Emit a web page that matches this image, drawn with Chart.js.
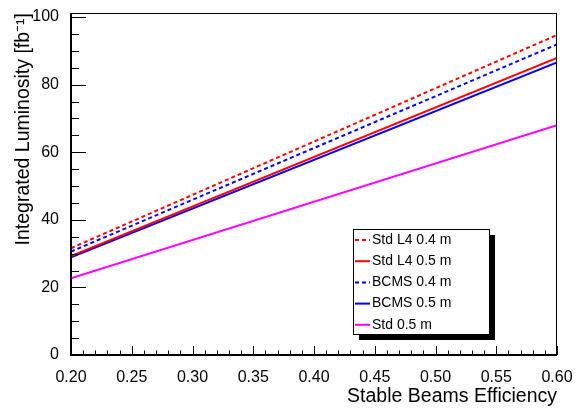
<!DOCTYPE html>
<html>
<head>
<meta charset="utf-8">
<script src="https://cdn.jsdelivr.net/npm/chart.js@4/dist/chart.umd.min.js"></script>
<style>
  html, body { margin: 0; padding: 0; background: #fff; }
</style>
</head>
<body>
<canvas id="c" width="575" height="408"></canvas>
<script>
// data
var efficiency = [0.20, 0.60];
var stdL4_04 = [31.6, 94.7];
var stdL4_05 = [29.3, 87.9];
var bcms_04 = [30.6, 91.9];
var bcms_05 = [28.9, 86.6];
var std_05 = [22.7, 68.0];

var seriesNames = ['Std L4 0.4 m', 'Std L4 0.5 m', 'BCMS 0.4 m', 'BCMS 0.5 m', 'Std 0.5 m'];
var xTicks = [0.20, 0.25, 0.30, 0.35, 0.40, 0.45, 0.50, 0.55, 0.60];
var yTicks = [0, 20, 40, 60, 80, 100];

Chart.defaults.font.family = '"Liberation Sans", Arial, Helvetica, sans-serif';
Chart.defaults.color = '#000';

function pts(vals) {
  return efficiency.map(function (x, i) { return { x: x, y: vals[i] }; });
}

function line(label, vals, color, dash) {
  return {
    label: label,
    data: pts(vals),
    borderColor: color,
    backgroundColor: color,
    borderWidth: 2,
    borderDash: dash,
    pointRadius: 0,
    fill: false,
    tension: 0
  };
}

// ROOT style frame, inward ticks and boxed legend with shadow
var rootFrame = {
  id: 'rootFrame',
  afterDatasetsDraw: function (chart) {
    var ctx = chart.ctx, a = chart.chartArea;
    var xs = chart.scales.x, ys = chart.scales.y;
    ctx.save();

    // frame
    ctx.strokeStyle = '#000';
    ctx.lineWidth = 1;
    ctx.strokeRect(a.left + 0.5, a.top + 0.5, a.right - a.left - 1, a.bottom - a.top);
    ctx.lineWidth = 2;
    ctx.beginPath();
    ctx.moveTo(a.left, a.top);
    ctx.lineTo(a.left, a.bottom);
    ctx.lineTo(a.right, a.bottom);
    ctx.stroke();

    // y ticks (major every 20, minor every 5)
    ctx.lineWidth = 1;
    ctx.beginPath();
    for (var v = 0; v <= ys.max; v += 5) {
      var y = Math.round(ys.getPixelForValue(v)) + 0.5;
      var len = (v % 20 === 0) ? 15 : 8;
      ctx.moveTo(a.left, y);
      ctx.lineTo(a.left + len, y);
    }
    // x ticks (major every 0.05, minor every 0.01)
    for (var k = 20; k <= 60; k++) {
      var x = Math.round(xs.getPixelForValue(k / 100)) + 0.5;
      var l = (k % 5 === 0) ? 9 : 4.5;
      ctx.moveTo(x, a.bottom);
      ctx.lineTo(x, a.bottom - l);
    }
    ctx.stroke();

    // legend box
    var bx = 353, by = 229, bw = 136, bh = 105;
    ctx.fillStyle = '#000';
    ctx.fillRect(bx + 6, by + 6, bw, bh);
    ctx.fillStyle = '#fff';
    ctx.fillRect(bx, by, bw, bh);
    ctx.strokeStyle = '#000';
    ctx.lineWidth = 1;
    ctx.strokeRect(bx + 0.5, by + 0.5, bw, bh);

    ctx.font = '14px "Liberation Sans", Arial, sans-serif';
    ctx.textBaseline = 'middle';
    ctx.textAlign = 'left';
    chart.data.datasets.forEach(function (ds, i) {
      var ry = by + 11 + i * 21.2;
      ctx.strokeStyle = ds.borderColor;
      ctx.lineWidth = 2;
      ctx.setLineDash(ds.borderDash || []);
      ctx.beginPath();
      ctx.moveTo(bx + 2, ry);
      ctx.lineTo(bx + 17, ry);
      ctx.stroke();
      ctx.setLineDash([]);
      ctx.fillStyle = '#000';
      ctx.fillText(ds.label, bx + 19, ry);
    });

    ctx.restore();
  }
};

new Chart(document.getElementById('c'), {
  type: 'line',
  data: {
    datasets: [
      line(seriesNames[0], stdL4_04, '#ff0000', [4, 3]),
      line(seriesNames[1], stdL4_05, '#ff0000', []),
      line(seriesNames[2], bcms_04, '#0000ff', [4, 3]),
      line(seriesNames[3], bcms_05, '#0000ff', []),
      line(seriesNames[4], std_05, '#ff00ff', [])
    ]
  },
  options: {
    responsive: false,
    animation: false,
    devicePixelRatio: 1,
    layout: { padding: { left: 0, right: 18, top: 13, bottom: 0 } },
    plugins: {
      legend: { display: false },
      tooltip: { enabled: false }
    },
    scales: {
      x: {
        type: 'linear',
        min: 0.2,
        max: 0.6,
        grid: { display: false },
        border: { display: false },
        afterBuildTicks: function (s) {
          s.ticks = xTicks.map(function (v) { return { value: v }; });
        },
        afterFit: function (s) {
          s.height = 53;
          s.paddingLeft = 0;
          s.paddingRight = 0;
        },
        ticks: {
          autoSkip: false,
          maxRotation: 0,
          padding: 5,
          font: { size: 16 },
          callback: function (v) { return Number(v).toFixed(2); }
        },
        title: {
          display: true,
          text: 'Stable Beams Efficiency',
          align: 'end',
          font: { size: 19.5 },
          padding: { top: 0, bottom: 0 }
        }
      },
      y: {
        min: 0,
        max: 101.2,
        grid: { display: false },
        border: { display: false },
        afterBuildTicks: function (s) {
          s.ticks = yTicks.map(function (v) { return { value: v }; });
        },
        afterFit: function (s) {
          s.width = 71;
          s.paddingTop = 0;
          s.paddingBottom = 0;
        },
        ticks: {
          padding: 4,
          font: { size: 16 }
        },
        title: {
          display: true,
          text: 'Integrated Luminosity [fb\u207B\u00B9]',
          align: 'end',
          font: { size: 19.5 },
          padding: { top: 12, bottom: 0 }
        }
      }
    }
  },
  plugins: [rootFrame]
});
</script>
</body>
</html>
